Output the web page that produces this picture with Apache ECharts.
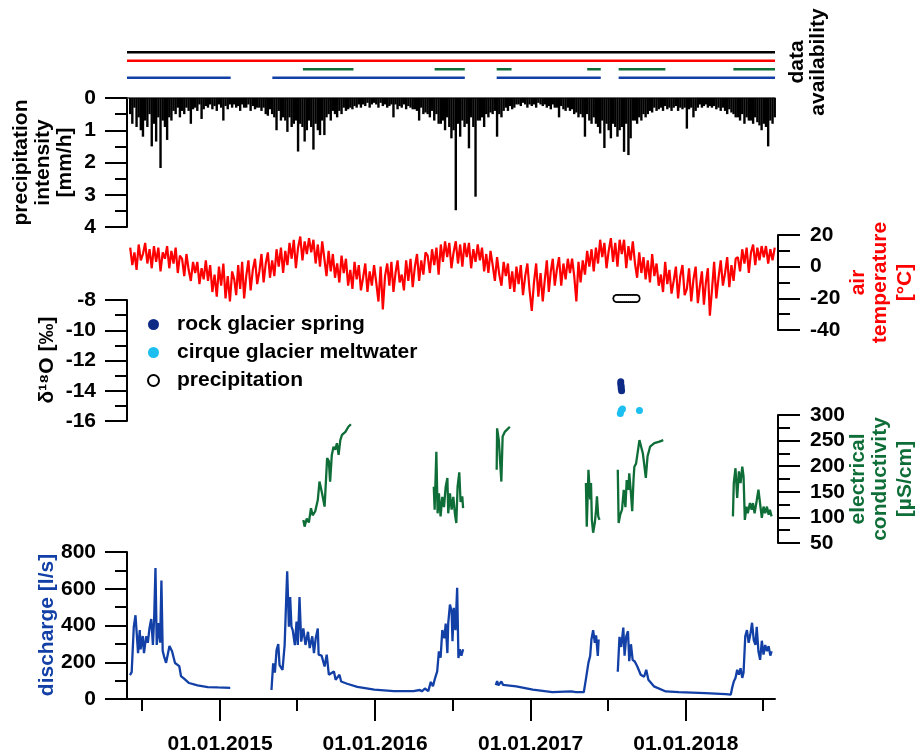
<!DOCTYPE html>
<html>
<head>
<meta charset="utf-8">
<script src="https://cdn.jsdelivr.net/npm/echarts@6/dist/echarts.min.js"></script>
<style>
html, body { margin: 0; padding: 0; background: #fff; }
#chart { width: 921px; height: 754px; }
</style>
</head>
<body>
<div id="chart"></div>
<script>
var FONT = '"Liberation Sans", Arial, sans-serif';
var BLUE = '#1240a6', GREEN = '#0f6e38', RED = '#ff0000', NAVY = '#0d2a85', CYAN = '#1cbff0';

// time range and tick labels
var xStart = '2014-05-27', xEnd = '2018-07-30';
var yearTicks = ['2015-01-01', '2016-01-01', '2017-01-01', '2018-01-01'];
var halfYearTicks = ['2014-07-01', '2015-07-01', '2016-07-01', '2017-07-01', '2018-07-01'];

// data availability (start, end)
var availRows = ['precipitation', 'air temperature', 'electrical conductivity', 'discharge'];
var availPeriods = [
    [['2014-05-27', '2018-07-30']],
    [['2014-05-27', '2018-07-30']],
    [['2015-07-15', '2015-11-11'], ['2016-05-20', '2016-07-30'], ['2016-10-13', '2016-11-17'],
     ['2017-05-14', '2017-06-15'], ['2017-07-27', '2017-11-14'], ['2018-04-23', '2018-07-30']],
    [['2014-05-27', '2015-01-26'], ['2015-05-04', '2016-07-30'], ['2016-10-13', '2017-06-15'], ['2017-07-27', '2018-07-30']]
];

// precipitation intensity [mm/h], 6 values per month from June 2014
var precipMonths = [
    [0.5,0.8,0.3,0.9,0.6,1.0], [1.2,0.7,0.9,0.5,1.5,0.8], [1.35,0.6,2.17,0.7,0.9,1.3], [0.6,0.7,0.4,0.5,0.3,0.6],
    [0.4,0.5,0.3,0.4,0.8,0.35], [0.3,0.4,0.2,0.65,0.35,0.25], [0.3,0.2,0.35,0.25,0.4,0.2],
    [0.3,0.7,0.25,0.35,0.2,0.3], [0.2,0.3,0.25,0.4,0.2,0.3], [0.3,0.2,0.4,0.25,0.35,0.3], [0.3,0.4,0.3,0.5,0.55,0.35],
    [0.5,0.6,1.0,0.4,0.7,0.6], [0.7,1.05,0.6,0.9,0.8,0.7], [1.66,0.8,0.9,1.35,1.0,0.7], [0.9,1.6,0.8,1.0,1.15,0.7],
    [1.15,0.6,0.5,0.7,0.4,0.5], [0.6,0.4,0.5,0.3,0.4,0.35], [0.3,0.35,0.25,0.3,0.2,0.3], [0.2,0.25,0.15,0.3,0.2,0.15],
    [0.2,0.3,0.15,0.25,0.2,0.3], [0.25,0.2,0.6,0.2,0.35,0.25], [0.3,0.2,0.35,0.25,0.3,0.35], [0.35,0.4,0.7,0.3,0.5,0.45],
    [0.5,0.6,0.4,0.7,0.5,0.8], [0.8,0.7,1.0,0.6,0.9,1.25], [1.0,3.48,0.8,1.2,0.7,0.9], [0.8,1.56,0.6,0.9,3.06,0.7],
    [0.7,0.6,0.9,0.5,0.6,0.45], [0.5,0.4,1.2,0.5,0.6,0.4], [0.3,0.4,0.25,0.35,0.3,0.2], [0.2,0.25,0.15,0.2,0.3,0.2],
    [0.25,0.2,0.3,0.15,0.2,0.25], [0.2,0.3,0.25,0.35,0.2,0.3], [0.3,0.6,0.25,0.35,0.4,0.3], [0.4,0.35,0.5,0.45,0.6,0.5],
    [0.6,1.2,0.5,0.7,0.8,0.6], [0.8,0.9,1.1,0.7,1.55,0.8], [1.0,1.25,0.8,0.9,1.2,1.0], [0.9,1.67,0.8,1.77,1.25,0.7],
    [0.7,0.8,0.6,0.7,0.5,0.6], [0.5,0.4,0.45,0.3,0.4,0.35], [0.3,0.4,0.25,0.35,0.3,0.4], [0.3,0.25,0.4,0.3,0.35,0.3],
    [0.95,0.35,0.3,0.6,0.4,0.3], [0.2,0.3,0.25,0.2,0.3,0.25], [0.3,0.25,0.35,0.3,0.4,0.3], [0.4,0.5,0.35,0.45,0.5,0.6],
    [0.6,0.7,0.5,0.8,0.6,0.7], [0.7,0.8,0.6,0.75,0.85,1.0], [0.8,0.9,1.5,0.7,0.8,0.6]
];

// air temperature [°C], 6 values per month from June 2014
var tempMonths = [
    [12,1,9,-2,14,4], [8,15,2,11,-1,13], [3,12,-3,9,5,13], [-1,10,2,12,-4,7], [5,-6,8,-2,-9,3], [-4,3,-11,-1,-8,4],
    [-9,1,-16,-5,-19,0], [-12,2,-20,-6,-22,-3], [-8,-18,1,-14,3,-20], [-6,4,-15,-2,5,-11], [-3,8,-10,2,9,-7],
    [4,-6,11,0,12,-4], [10,1,15,5,17,-1], [12,19,4,16,8,18], [9,17,2,14,0,16], [5,-6,10,-3,8,-7], [2,-10,7,-4,5,-12],
    [-2,-14,3,-8,1,-15], [-7,2,-16,-3,-12,1], [-10,-22,0,-27,-6,2], [-12,3,-16,-4,4,-10], [-5,-15,4,-9,5,-13],
    [0,8,-9,4,-5,9], [7,-4,11,1,12,-5], [14,3,16,6,15,-1], [9,16,2,14,0,15], [6,15,-1,11,3,14], [4,12,-3,8,-4,10],
    [1,-9,6,-5,-12,3], [-6,2,-14,-3,-16,0], [-11,1,-18,-6,2,-15], [-28,-10,2,-19,-4,-22], [-8,4,-16,-3,5,-12],
    [-2,6,-12,2,-8,5], [-4,5,-6,-22,3,-10], [4,-5,10,0,11,-3], [12,2,17,6,15,-1], [10,18,3,15,0,17], [8,17,-1,13,4,16],
    [2,-7,9,-4,6,-8], [4,-10,8,-6,2,-12], [-5,-16,3,-11,-2,-17], [-9,0,-20,-6,1,-18], [-14,-1,-22,-8,0,-23],
    [-12,-3,-24,-10,-1,-31], [-15,3,-20,-7,4,-12], [-4,6,-13,1,-9,5], [6,-3,11,2,12,-4], [9,14,1,12,4,13], [6,13,2,11,4,12]
];

// d18O [permil]
var rockGlacierIso = [['2017-08-01',-13.4],['2017-08-01',-13.55],['2017-08-02',-13.7],['2017-08-02',-13.85],['2017-08-03',-14.0]];
var cirqueIso = [['2017-07-31',-15.5],['2017-08-02',-15.3],['2017-08-05',-15.2],['2017-09-14',-15.3]];
var precipIso = [['2017-07-23',-7.9],['2017-07-28',-7.9],['2017-08-02',-7.9],['2017-08-07',-7.9],['2017-08-12',-7.9],
    ['2017-08-17',-7.9],['2017-08-22',-7.9],['2017-08-27',-7.9],['2017-09-01',-7.9],['2017-09-06',-7.9]];

// electrical conductivity [µS/cm], null = gap
var conductivityObs = [
    ['2015-07-16',95],['2015-07-19',82],['2015-07-24',98],['2015-07-29',90],['2015-08-03',118],['2015-08-07',104],['2015-08-13',112],
    ['2015-08-19',134],['2015-08-23',170],['2015-08-29',147],['2015-09-04',121],['2015-09-10',216],['2015-09-14',210],['2015-09-17',170],
    ['2015-09-21',222],['2015-09-25',238],['2015-09-29',232],['2015-10-03',245],['2015-10-07',222],['2015-10-11',251],['2015-10-15',261],
    ['2015-10-19',258],['2015-10-23',267],['2015-10-26',265],['2015-10-30',277],['2015-11-05',282],
    ['2016-01-01',null],
    ['2016-05-18',160],['2016-05-20',115],['2016-05-24',228],['2016-05-27',108],['2016-05-30',147],['2016-06-03',102],['2016-06-07',140],
    ['2016-06-11',120],['2016-06-15',160],['2016-06-19',177],['2016-06-21',108],['2016-06-25',147],['2016-06-29',115],['2016-07-03',140],
    ['2016-07-07',105],['2016-07-10',89],['2016-07-13',160],['2016-07-17',188],['2016-07-20',130],['2016-07-24',141],['2016-07-26',118],
    ['2016-09-01',null],
    ['2016-10-13',193],['2016-10-14',274],['2016-10-18',251],['2016-10-21',252],['2016-10-24',170],['2016-10-27',258],['2016-11-01',267],
    ['2016-11-07',272],['2016-11-13',277],
    ['2017-01-01',null],
    ['2017-05-11',167],['2017-05-13',82],['2017-05-17',193],['2017-05-21',135],['2017-05-23',167],['2017-05-25',95],['2017-05-28',70],
    ['2017-06-01',90],['2017-06-04',115],['2017-06-06',141],['2017-06-09',102],['2017-06-12',95],
    ['2017-07-01',null],
    ['2017-07-25',193],['2017-07-27',89],['2017-07-31',106],['2017-08-04',115],['2017-08-08',154],['2017-08-12',120],['2017-08-15',173],
    ['2017-08-19',154],['2017-08-21',186],['2017-08-25',147],['2017-08-28',112],['2017-08-31',173],['2017-09-02',199],['2017-09-06',205],
    ['2017-09-10',228],['2017-09-14',251],['2017-09-18',238],['2017-09-22',225],['2017-09-25',205],['2017-09-29',177],['2017-10-03',219],
    ['2017-10-09',238],['2017-10-19',245],['2017-10-31',248],['2017-11-09',251],
    ['2018-01-01',null],
    ['2018-04-22',102],['2018-04-24',167],['2018-04-28',196],['2018-05-02',138],['2018-05-06',190],['2018-05-10',167],['2018-05-14',199],
    ['2018-05-17',180],['2018-05-20',95],['2018-05-24',121],['2018-05-27',108],['2018-06-01',128],['2018-06-05',115],['2018-06-08',128],
    ['2018-06-12',108],['2018-06-17',133],['2018-06-21',154],['2018-06-25',157],['2018-06-29',99],['2018-07-03',121],['2018-07-07',108],
    ['2018-07-11',121],['2018-07-15',105],['2018-07-18',115],['2018-07-22',102]
];

// discharge [l/s], null = gap
var dischargeObs = [
    ['2014-06-03',130],['2014-06-07',146],['2014-06-12',393],['2014-06-16',456],['2014-06-22',250],['2014-06-26',375],['2014-06-28',271],
    ['2014-07-03',343],['2014-07-06',250],['2014-07-11',341],['2014-07-15',306],['2014-07-19',387],['2014-07-23',435],['2014-07-27',294],
    ['2014-07-30',445],['2014-08-02',713],['2014-08-05',294],['2014-08-09',413],['2014-08-13',306],['2014-08-16',645],['2014-08-19',262],
    ['2014-08-23',225],['2014-08-27',197],['2014-09-04',288],['2014-09-10',260],['2014-09-17',196],['2014-09-27',179],['2014-10-01',125],
    ['2014-10-09',109],['2014-10-20',87],['2014-11-09',74],['2014-12-03',65],['2014-12-27',63],['2015-01-25',61],
    ['2015-03-01',null],
    ['2015-05-02',49],['2015-05-06',194],['2015-05-10',144],['2015-05-14',266],['2015-05-18',299],['2015-05-21',184],['2015-05-28',158],
    ['2015-06-02',294],['2015-06-06',566],['2015-06-08',695],['2015-06-12',394],['2015-06-15',555],['2015-06-18',394],['2015-06-21',375],
    ['2015-06-26',293],['2015-06-30',422],['2015-07-03',294],['2015-07-07',555],['2015-07-11',312],['2015-07-16',384],['2015-07-21',294],
    ['2015-07-27',366],['2015-07-31',277],['2015-08-06',341],['2015-08-10',250],['2015-08-14',329],['2015-08-19',384],['2015-08-21',241],
    ['2015-08-28',236],['2015-09-04',177],['2015-09-09',241],['2015-09-14',132],['2015-09-26',150],['2015-09-30',105],['2015-10-09',132],
    ['2015-10-13',95],['2015-10-27',83],['2015-11-20',66],['2015-12-30',51],['2016-02-14',43],['2016-03-31',43],['2016-04-15',49],
    ['2016-04-20',42],['2016-04-27',57],['2016-05-05',43],['2016-05-11',93],['2016-05-16',69],['2016-05-20',105],['2016-05-26',150],
    ['2016-05-30',260],['2016-06-03',225],['2016-06-07',375],['2016-06-09',358],['2016-06-12',331],['2016-06-15',410],['2016-06-19',250],
    ['2016-06-21',413],['2016-06-25',514],['2016-06-29',477],['2016-07-01',315],['2016-07-04',496],['2016-07-08',375],['2016-07-12',605],
    ['2016-07-15',223],['2016-07-18',271],['2016-07-22',236],['2016-07-26',271],
    ['2016-09-01',null],
    ['2016-10-11',76],['2016-10-14',98],['2016-10-17',74],['2016-10-24',95],['2016-10-28',77],['2016-11-28',69],['2017-01-06',51],
    ['2017-02-21',37],['2017-03-22',40],['2017-04-07',41],['2017-04-17',37],['2017-05-06',37],['2017-05-11',108],['2017-05-17',198],
    ['2017-05-21',234],['2017-05-24',324],['2017-05-28',375],['2017-06-01',306],['2017-06-04',346],['2017-06-08',234],['2017-06-10',324],
    ['2017-07-01',null],
    ['2017-07-25',148],['2017-07-29',338],['2017-08-02',283],['2017-08-07',389],['2017-08-10',236],['2017-08-14',341],['2017-08-18',369],
    ['2017-08-21',206],['2017-08-25',298],['2017-08-29',213],['2017-09-03',204],['2017-09-09',177],['2017-09-17',132],['2017-09-25',121],
    ['2017-09-30',159],['2017-10-05',105],['2017-10-18',69],['2017-11-15',41],['2017-12-16',37],['2018-02-16',32],['2018-04-05',27],
    ['2018-04-17',24],['2018-04-20',59],['2018-04-24',95],['2018-04-28',114],['2018-05-02',159],['2018-05-06',132],['2018-05-10',167],
    ['2018-05-14',115],['2018-05-17',144],['2018-05-21',341],['2018-05-25',375],['2018-05-29',306],['2018-06-02',352],['2018-06-06',415],
    ['2018-06-10',321],['2018-06-14',294],['2018-06-17',393],['2018-06-21',260],['2018-06-25',213],['2018-06-29',317],['2018-07-03',242],
    ['2018-07-07',294],['2018-07-11',260],['2018-07-15',288],['2018-07-19',236],['2018-07-22',260]
];

function t(s) { return Date.parse(s + 'T00:00:00Z'); }
function pairs(list) { return list.map(function (p) { return [t(p[0]), p[1]]; }); }
// spread each month's values evenly over that month
function monthly(blocks, y0, m0) {
    var out = [];
    blocks.forEach(function (vals, i) {
        var a = Date.UTC(y0, m0 + i, 1), b = Date.UTC(y0, m0 + i + 1, 1);
        vals.forEach(function (v, k) { out.push([a + (k + 0.5) * (b - a) / vals.length, v]); });
    });
    return out;
}
function pad(n) { return (n < 10 ? '0' : '') + n; }
function fmtDate(v) {
    var d = new Date(v);
    return pad(d.getUTCDate()) + '.' + pad(d.getUTCMonth() + 1) + '.' + d.getUTCFullYear();
}

var X_MIN = t(xStart), X_MAX = t(xEnd);
var black = { color: '#000', width: 2 };
var labelStyle = { fontSize: 21, fontWeight: 'bold', fontFamily: FONT, color: '#000' };

function grid(top, height) {
    return { left: 127, right: 146, top: top, height: height, containLabel: false, outerBoundsMode: 'none' };
}
function hiddenX(g) {
    return { type: 'value', gridIndex: g, min: X_MIN, max: X_MAX, show: false };
}
function valueY(g, pos, min, max, step, inverse) {
    return {
        type: 'value', gridIndex: g, position: pos, offset: pos === 'right' ? 3 : 0,
        min: min, max: max, interval: step, inverse: !!inverse,
        axisLine: { show: true, onZero: false, lineStyle: black },
        axisTick: { show: true, length: 22, lineStyle: black },
        minorTick: { show: true, splitNumber: 2, length: 12, lineStyle: black },
        axisLabel: Object.assign({ margin: pos === 'right' ? 32 : 31 }, labelStyle),
        splitLine: { show: false }, minorSplitLine: { show: false }
    };
}

var series = [];
availPeriods.forEach(function (periods, r) {
    var colors = ['#000', RED, GREEN, BLUE];
    periods.forEach(function (p) {
        series.push({
            type: 'line', xAxisIndex: 0, yAxisIndex: 0, symbol: 'none', silent: true,
            data: [[t(p[0]), availRows[r]], [t(p[1]), availRows[r]]],
            lineStyle: { color: colors[r], width: 2.5 }
        });
    });
});

// hanging bars, drawn through the axis scales
series.push({
    name: 'precipitation intensity', type: 'custom', xAxisIndex: 1, yAxisIndex: 1,
    data: monthly(precipMonths, 2014, 5),
    renderItem: function (params, api) {
        var top = api.coord([api.value(0), 0]);
        var end = api.coord([api.value(0), api.value(1)]);
        return {
            type: 'rect',
            shape: { x: top[0] - 1.2, y: top[1], width: 2.4, height: end[1] - top[1] },
            style: { fill: '#000' }
        };
    }
});
series.push({
    name: 'air temperature', type: 'line', xAxisIndex: 2, yAxisIndex: 2, symbol: 'none',
    data: monthly(tempMonths, 2014, 5), lineStyle: { color: RED, width: 2.2 }
});
series.push({
    name: 'rock glacier spring', type: 'scatter', xAxisIndex: 3, yAxisIndex: 3, clip: false,
    data: pairs(rockGlacierIso), symbolSize: 7, itemStyle: { color: NAVY, opacity: 1 }
});
series.push({
    name: 'cirque glacier meltwater', type: 'scatter', xAxisIndex: 3, yAxisIndex: 3, clip: false,
    data: pairs(cirqueIso), symbolSize: 7, itemStyle: { color: CYAN, opacity: 1 }
});
// open circles: black discs with white discs on top
series.push({
    name: 'precipitation', type: 'scatter', xAxisIndex: 3, yAxisIndex: 3, clip: false, z: 3,
    data: pairs(precipIso), symbolSize: 9, itemStyle: { color: '#000', opacity: 1 }
});
series.push({
    name: 'precipitation inner', type: 'scatter', xAxisIndex: 3, yAxisIndex: 3, clip: false, z: 4,
    data: pairs(precipIso), symbolSize: 5.5, itemStyle: { color: '#fff', opacity: 1 }
});
series.push({
    name: 'electrical conductivity', type: 'line', xAxisIndex: 4, yAxisIndex: 4, symbol: 'none',
    data: pairs(conductivityObs), connectNulls: false, lineStyle: { color: GREEN, width: 2.3 }
});
series.push({
    name: 'discharge', type: 'line', xAxisIndex: 5, yAxisIndex: 5, symbol: 'none',
    data: pairs(dischargeObs), connectNulls: false, lineStyle: { color: BLUE, width: 2.3 }
});

function vtext(x, y, text, color) {
    return {
        type: 'text', x: x, y: y, rotation: Math.PI / 2, silent: true,
        style: { text: text, fill: color, font: 'bold 21px ' + FONT, align: 'center', verticalAlign: 'middle' }
    };
}

var myChart = echarts.init(document.getElementById('chart'));

var option = {
    animation: false,
    backgroundColor: '#fff',
    grid: [grid(48, 34), grid(98, 129), grid(235, 95), grid(300, 121), grid(415, 128), grid(552, 147)],
    xAxis: [
        hiddenX(0),
        {
            type: 'value', gridIndex: 1, min: X_MIN, max: X_MAX, position: 'top',
            axisLine: { show: true, onZero: false, lineStyle: { color: '#333', width: 1.5 } },
            axisTick: { show: false }, axisLabel: { show: false }, splitLine: { show: false }
        },
        hiddenX(2), hiddenX(3), hiddenX(4),
        {
            type: 'value', gridIndex: 5, min: X_MIN, max: X_MAX, position: 'bottom',
            axisLine: { show: true, onZero: false, lineStyle: black },
            axisTick: { show: true, length: 22, lineStyle: black, customValues: yearTicks.map(t) },
            axisLabel: Object.assign({ margin: 35, formatter: fmtDate, customValues: yearTicks.map(t), hideOverlap: false }, labelStyle),
            splitLine: { show: false }
        },
        {
            type: 'value', gridIndex: 5, min: X_MIN, max: X_MAX, position: 'bottom',
            axisLine: { show: false },
            axisTick: { show: true, length: 12, lineStyle: black, customValues: halfYearTicks.map(t) },
            axisLabel: { show: false }, splitLine: { show: false }
        }
    ],
    yAxis: [
        { type: 'category', gridIndex: 0, data: availRows, inverse: true, show: false },
        valueY(1, 'left', 0, 4, 1, true),
        valueY(2, 'right', -40, 20, 20),
        valueY(3, 'left', -16, -8, 2),
        valueY(4, 'right', 50, 300, 50),
        valueY(5, 'left', 0, 800, 200)
    ],
    legend: {
        orient: 'vertical', left: 142, top: 309, itemWidth: 37, itemHeight: 11, itemGap: 7,
        selectedMode: false,
        textStyle: { fontSize: 21, fontWeight: 'bold', fontFamily: FONT, color: '#000' },
        data: [
            { name: 'rock glacier spring', icon: 'circle' },
            { name: 'cirque glacier meltwater', icon: 'circle' },
            { name: 'precipitation', icon: 'circle', itemStyle: { color: '#fff', borderColor: '#000', borderWidth: 2 } }
        ]
    },
    graphic: [
        { type: 'line', silent: true, shape: { x1: 105, y1: 699, x2: 127, y2: 699 }, style: { stroke: '#000', lineWidth: 2 } },
        vtext(797, 62, 'data', '#000'),
        vtext(818, 62, 'availability', '#000'),
        vtext(21, 162.5, 'precipitation', '#000'),
        vtext(43, 162.5, 'intensity', '#000'),
        vtext(65, 162.5, '[mm/h]', '#000'),
        vtext(858, 282.5, 'air', RED),
        vtext(880, 282.5, 'temperature', RED),
        vtext(905, 282.5, '[°C]', RED),
        vtext(47, 360, 'δ¹⁸O [‰]', '#000'),
        vtext(858, 479, 'electrical', GREEN),
        vtext(880, 479, 'conductivity', GREEN),
        vtext(905, 479, '[µS/cm]', GREEN),
        vtext(47, 625, 'discharge [l/s]', BLUE)
    ],
    series: series
};

myChart.setOption(option);

window.addEventListener('resize', function () {
    myChart.resize();
});
</script>
</body>
</html>
